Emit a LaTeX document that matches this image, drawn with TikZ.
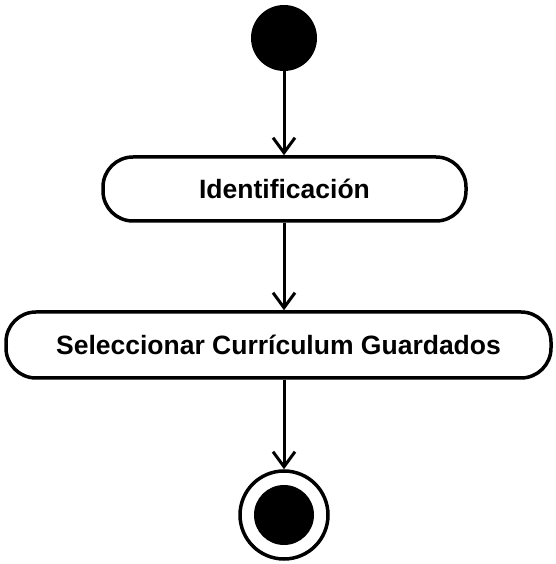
\documentclass[tikz,border=0pt]{standalone}
\usepackage{fontspec}
\setmainfont{Liberation Sans}
\usetikzlibrary{arrows.meta}
\begin{document}
\begin{tikzpicture}[x=1pt,y=1pt,
  activity/.style={draw=black,line width=3.5pt,rounded corners=30pt,minimum height=64pt,inner sep=0pt,
    font=\fontsize{26.5}{30}\selectfont\bfseries},
  flow/.style={line width=3pt,-{Straight Barb[length=15pt,width=22pt,line width=3pt]}}]
\useasboundingbox (0,0) rectangle (555,564);
\node[circle,fill=black,minimum size=66pt,inner sep=0pt] (start) at (284,526) {};
\node[activity,minimum width=363pt] (ident) at (284.5,375) {Identificación};
\node[activity,minimum width=545pt,minimum height=66pt] (sel) at (278.5,219) {Seleccionar Currículum Guardados};
\node[circle,draw=black,line width=3.5pt,minimum size=88pt,inner sep=0pt] (end) at (284,49) {};
\node[circle,fill=black,minimum size=60pt,inner sep=0pt] (endin) at (284,49) {};
\draw[flow] (start.south) -- (ident.north -| start);
\draw[flow] (ident.south -| start) -- (sel.north -| start);
\draw[flow] (sel.south -| start) -- (end.north);
\end{tikzpicture}
\end{document}
